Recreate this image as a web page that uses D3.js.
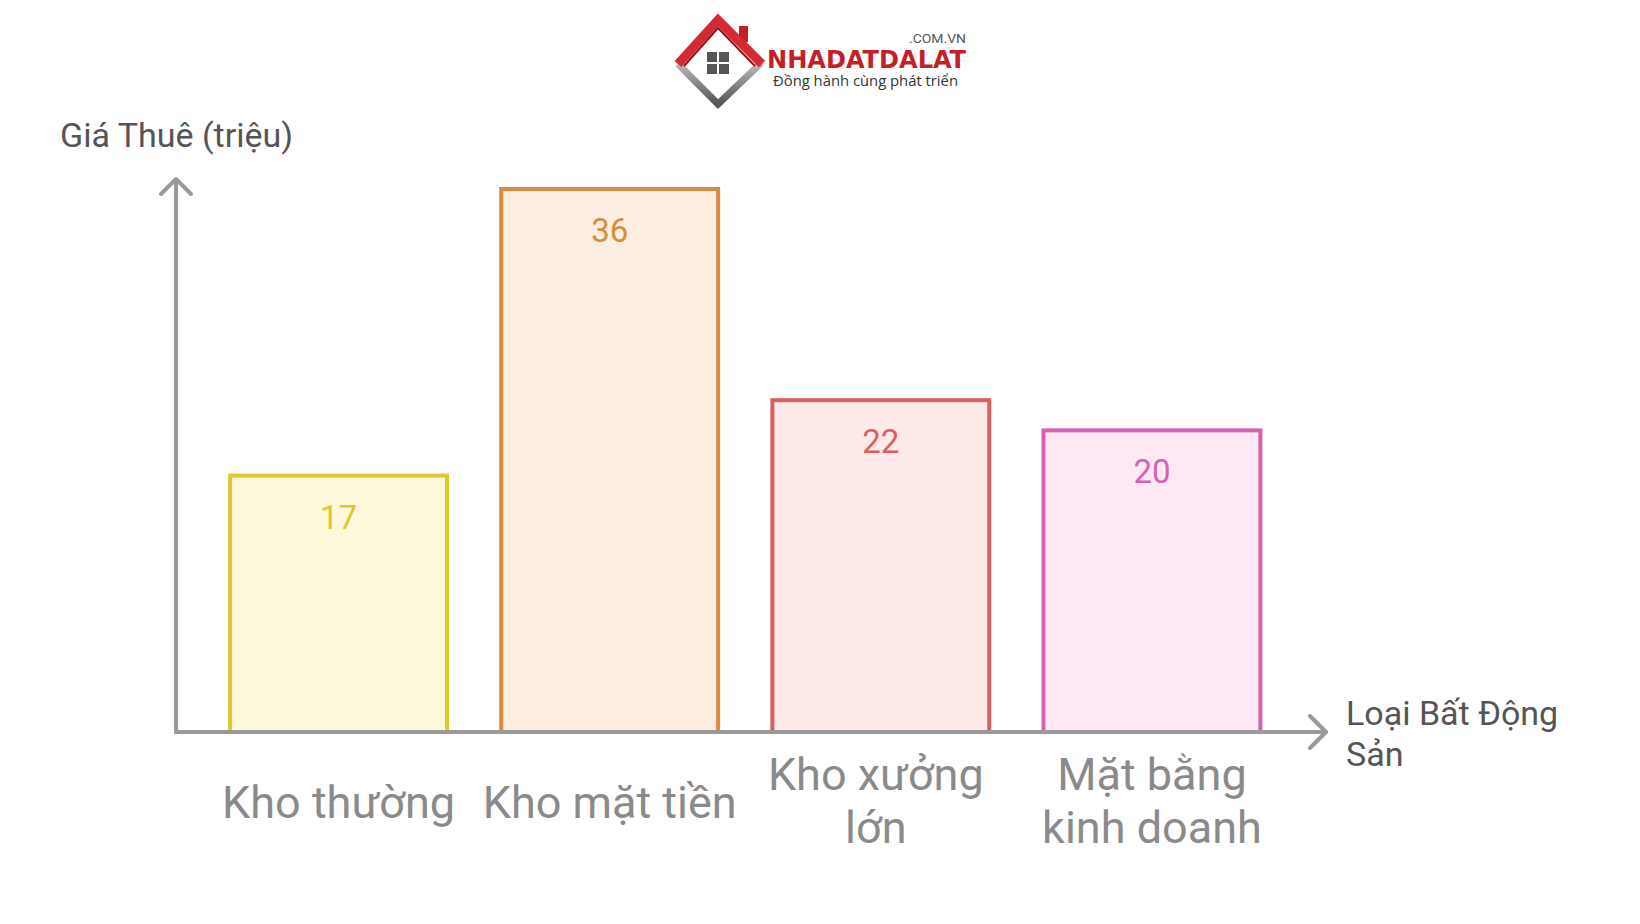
<!DOCTYPE html>
<html><head><meta charset="utf-8">
<script src="https://cdn.jsdelivr.net/npm/d3@7/dist/d3.min.js"></script>
<style>html,body{margin:0;padding:0;background:#fff;}svg{display:block;font-family:Roboto,"Noto Sans",sans-serif;}</style>
</head><body>
<svg id="c" width="1640" height="924"></svg>
<script>
const categories = ["Kho thường", "Kho mặt tiền", "Kho xưởng lớn", "Mặt bằng kinh doanh"];
const labelLines = [["Kho thường"], ["Kho mặt tiền"], ["Kho xưởng", "lớn"], ["Mặt bằng", "kinh doanh"]];
const values = [17, 36, 22, 20];
const strokeColors = ["#dcc92e", "#d98b3e", "#d9605f", "#d462b6"];
const fillColors = ["#fdf8d9", "#fdeee1", "#fde9e8", "#fde8f4"];
const yTitle = "Giá Thuê (triệu)";
const xTitleLines = ["Loại Bất Động", "Sản"];

const svg = d3.select("#c");
const base = 732;
const x = d3.scaleBand().domain(categories).range([203, 1287.5]).paddingInner(0.2).paddingOuter(0.1);
const y = d3.scaleLinear().domain([0, 36]).range([base, 189]);

// bars
const g = svg.append("g");
g.selectAll("rect").data(categories).join("rect")
  .attr("x", d => x(d)).attr("y", (d, i) => y(values[i]))
  .attr("width", x.bandwidth()).attr("height", (d, i) => base - y(values[i]))
  .attr("fill", (d, i) => fillColors[i]).attr("stroke", (d, i) => strokeColors[i])
  .attr("stroke-width", 4);
g.selectAll("text.v").data(categories).join("text").attr("class", "v")
  .attr("x", d => x(d) + x.bandwidth() / 2).attr("y", (d, i) => y(values[i]) + 53)
  .attr("text-anchor", "middle").attr("font-size", 33).attr("fill", (d, i) => strokeColors[i])
  .text((d, i) => values[i]);

// axes
const ax = svg.append("g").attr("stroke", "#9a9a9a").attr("stroke-width", 4).attr("fill", "none")
  .attr("stroke-linecap", "round").attr("stroke-linejoin", "round");
ax.append("line").attr("x1", 176).attr("y1", base).attr("x2", 176).attr("y2", 180);
ax.append("polyline").attr("points", "161,194 176,179 191,194");
ax.append("line").attr("x1", 176).attr("y1", base).attr("x2", 1326).attr("y2", base);
ax.append("polyline").attr("points", "1310,716 1326,732 1310,748");

// category labels
const cl = svg.append("g");
labelLines.forEach((lines, i) => {
  const cx = x(categories[i]) + x.bandwidth() / 2 - (i === 2 ? 5 : 0);
  const t = cl.append("text").attr("text-anchor", "middle").attr("font-size", 45).attr("fill", "#8a8a8a");
  const y0 = lines.length === 1 ? 818 : 790;
  lines.forEach((ln, j) => t.append("tspan").attr("x", cx).attr("y", y0 + j * 53).text(ln));
});

// titles
svg.append("text").attr("x", 60).attr("y", 147).attr("font-size", 34).attr("fill", "#555").text(yTitle);
const xt = svg.append("text").attr("font-size", 34).attr("fill", "#555");
xTitleLines.forEach((ln, j) => xt.append("tspan").attr("x", 1346).attr("y", 725 + j * 41).text(ln));

// logo
const lg = svg.append("g");
const defs = svg.append("defs");
const gr = defs.append("linearGradient").attr("id", "gg").attr("x1", 0).attr("y1", 0).attr("x2", 0).attr("y2", 1);
gr.append("stop").attr("offset", "0").attr("stop-color", "#bbb");
gr.append("stop").attr("offset", "1").attr("stop-color", "#555");
lg.append("polyline").attr("points", "678,64 718,104 761,63").attr("fill", "none")
  .attr("stroke", "url(#gg)").attr("stroke-width", 7).attr("stroke-linejoin", "miter");
lg.append("rect").attr("x", 739).attr("y", 26).attr("width", 9).attr("height", 16).attr("fill", "#c0202b");
lg.append("polyline").attr("points", "678,64 718,20 762,64").attr("fill", "none")
  .attr("stroke", "#d42a35").attr("stroke-width", 9).attr("stroke-linejoin", "miter");
lg.append("polyline").attr("points", "684,66 718,28 755,66").attr("fill", "none")
  .attr("stroke", "#8e1118").attr("stroke-width", 2);
[[707, 52], [719, 52], [707, 64], [719, 64]].forEach(p =>
  lg.append("rect").attr("x", p[0]).attr("y", p[1]).attr("width", 10).attr("height", 10).attr("fill", "#555"));
lg.append("text").attr("x", 767).attr("y", 68).attr("font-size", 25).attr("font-weight", 900)
  .attr("font-family", "'Liberation Sans Narrow','DejaVu Sans Condensed',sans-serif")
  .attr("fill", "#c61f2a").attr("textLength", 199).attr("lengthAdjust", "spacingAndGlyphs").text("NHADATDALAT");
lg.append("text").attr("x", 966).attr("y", 43).attr("text-anchor", "end").attr("font-size", 13)
  .attr("fill", "#555").attr("textLength", 57).attr("lengthAdjust", "spacingAndGlyphs").text(".COM.VN");
lg.append("text").attr("x", 773).attr("y", 86).attr("font-size", 14).attr("fill", "#333")
  .attr("font-family", "'Open Sans',sans-serif").attr("textLength", 185).attr("lengthAdjust", "spacingAndGlyphs")
  .text("Đồng hành cùng phát triển");
</script>
</body></html>
